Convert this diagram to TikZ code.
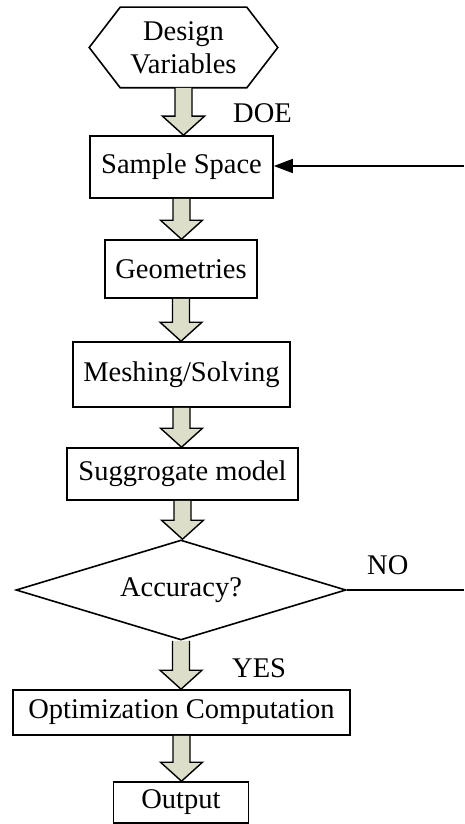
\documentclass[tikz,border=0pt]{standalone}
\usepackage{fontspec}
\setmainfont{Liberation Serif}
\usetikzlibrary{shapes.geometric,arrows.meta,calc}
\definecolor{arrowfill}{RGB}{220,222,202}
\tikzset{
  box/.style={draw=black, line width=1.6pt, fill=white, inner sep=0pt, font=\fontsize{28.5}{33}\selectfont},
  barrow/.style={draw=black, line width=1.4pt, fill=arrowfill, line join=miter},
  lbl/.style={inner sep=0pt, font=\fontsize{28.5}{33}\selectfont},
  fb/.style={draw=black, line width=1.5pt},
}
\newcommand\blockarrow[2]{%
  \draw[barrow] let \p1=(#1.south), \p2=(#2.north) in
    (\x1-8.5pt,\y1) -- (\x1-8.5pt,\y2+19pt) -- (\x1-21pt,\y2+19pt) -- (\x1,\y2)
    -- (\x1+21pt,\y2+19pt) -- (\x1+8.5pt,\y2+19pt) -- (\x1+8.5pt,\y1);}
\begin{document}
\begin{tikzpicture}[x=1pt,y=-1pt]
\useasboundingbox (0,0) rectangle (464,824);
% nodes
\node[box, draw=none, fill=none, align=center, minimum width=187pt, minimum height=79pt] (dv) at (183.5,47.5) {Design\\Variables};
\node[box, minimum width=183pt, minimum height=62pt] (ss) at (181.5,167) {Sample Space};
\node[box, minimum width=152pt, minimum height=58pt] (geo) at (181,269) {Geometries};
\node[box, minimum width=217pt, minimum height=65pt] (mesh) at (181.5,374.5) {Meshing/Solving};
\node[box, minimum width=231pt, minimum height=52pt] (sur) at (182.5,474) {Suggrogate model};
\node[box, diamond, aspect=3.3, minimum width=330pt, minimum height=100pt] (acc) at (181,590) {Accuracy?};
\node[box, minimum width=337pt, minimum height=45pt] (opt) at (181.5,712.5) {Optimization Computation};
\node[box, minimum width=135pt, minimum height=41pt] (out) at (181,802.5) {Output};
% hexagon outline
\draw[line width=1.6pt, line join=miter] (dv.west) -- ([xshift=31pt]dv.north west) -- ([xshift=-31pt]dv.north east)
  -- (dv.east) -- ([xshift=-31pt]dv.south east) -- ([xshift=31pt]dv.south west) -- cycle;
% block arrows
\blockarrow{dv}{ss}
\blockarrow{ss}{geo}
\blockarrow{geo}{mesh}
\blockarrow{mesh}{sur}
\blockarrow{sur}{acc}
\blockarrow{acc}{opt}
\blockarrow{opt}{out}
% labels
\node[lbl, anchor=base west] (doe) at (233,123) {DOE};
\node[lbl, anchor=base west] (no) at (367,574) {NO};
\node[lbl, anchor=base west] (yes) at (232,677) {YES};
% feedback lines
\coordinate (noend) at (464,590);
\coordinate (fbstart) at (464,166);
\draw[fb] (acc.east) -- (noend);
\draw[fb, -{Triangle[length=19pt,width=14pt]}] (fbstart) -- (ss.east |- fbstart);
\end{tikzpicture}
\end{document}
